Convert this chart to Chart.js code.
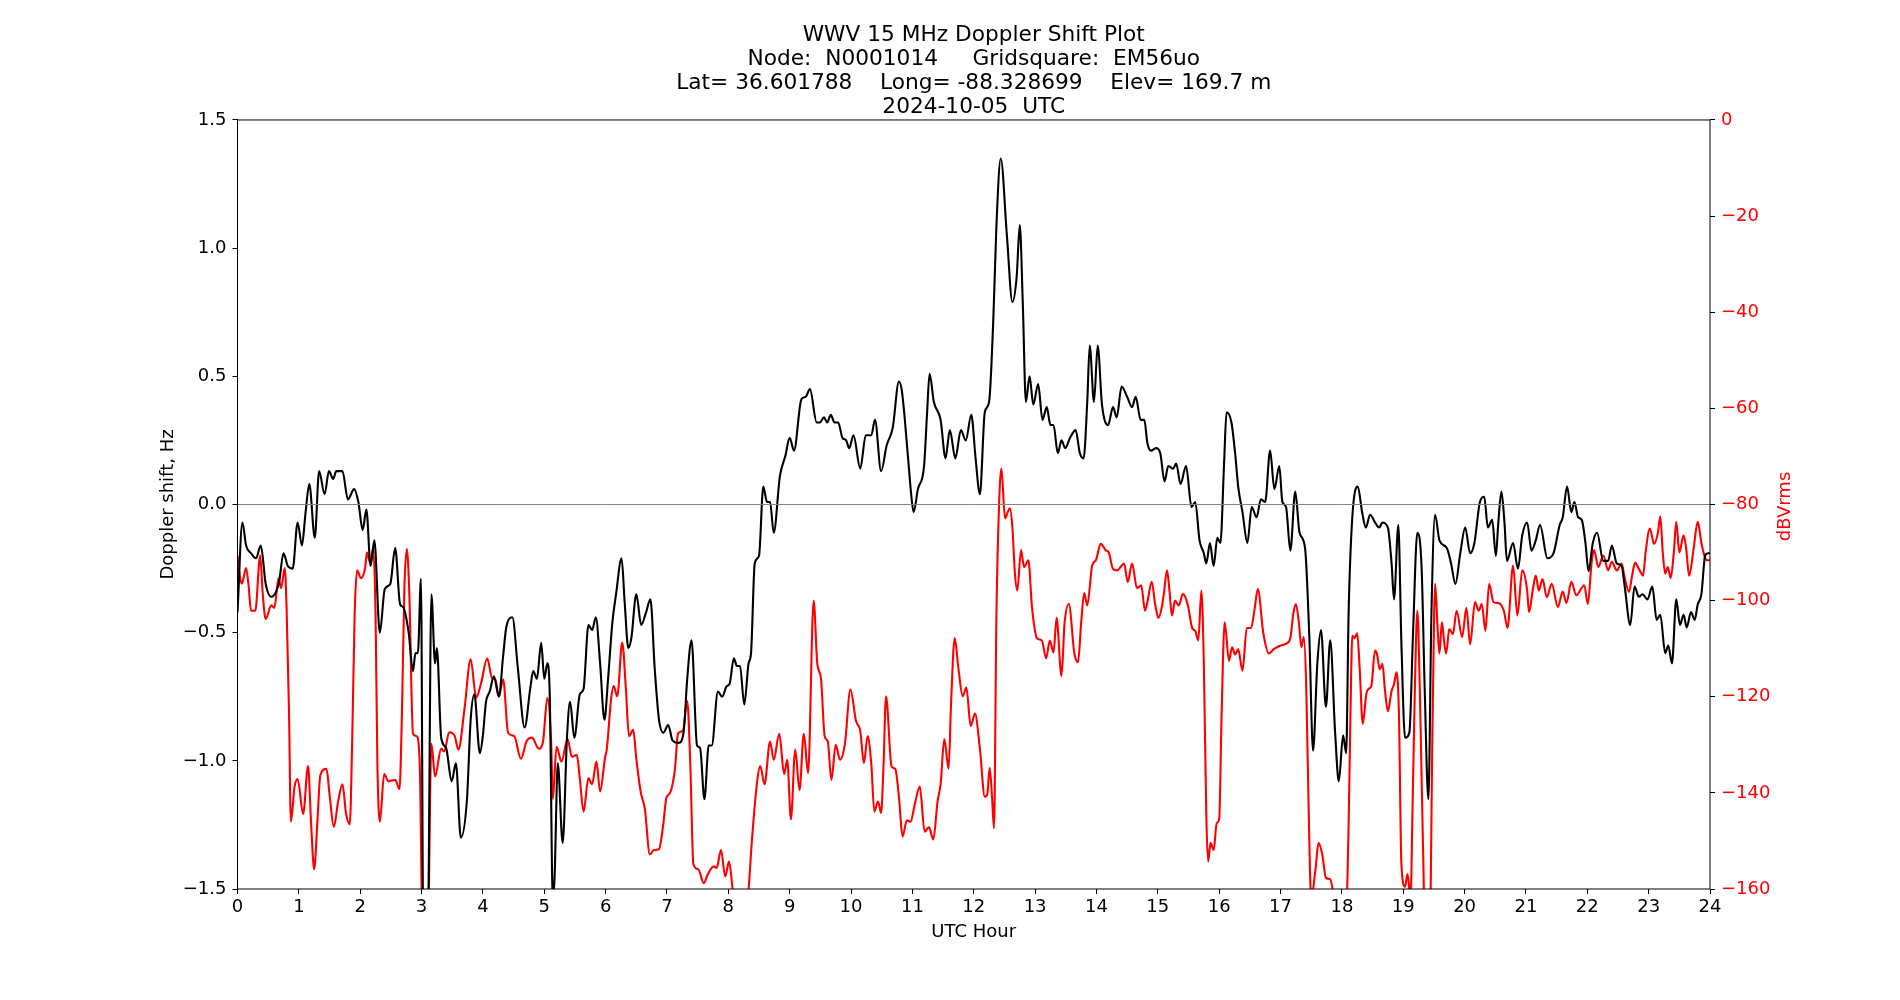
<!DOCTYPE html>
<html>
<head>
<meta charset="utf-8">
<title>WWV 15 MHz Doppler Shift Plot</title>
<script src="https://cdn.jsdelivr.net/npm/chart.js@4.4.1/dist/chart.umd.min.js"></script>
<style>
  html, body { margin: 0; padding: 0; background: #ffffff; }
  #wrap { width: 1900px; height: 1000px; }
</style>
</head>
<body>
<div id="wrap"><canvas id="doppler" width="1900" height="1000"></canvas></div>
<script>
// Title lines
const titleLines = [
    'WWV 15 MHz Doppler Shift Plot',
    'Node:  N0001014     Gridsquare:  EM56uo',
    'Lat= 36.601788    Long= -88.328699    Elev= 169.7 m',
    '2024-10-05  UTC'
];

// Doppler shift (black, left axis) - hours / Hz
const dopplerHours = [
    0.00, 0.08, 0.14, 0.22, 0.30, 0.38, 0.46, 0.55, 0.63, 0.68, 0.75, 0.82, 0.90, 0.98, 1.05, 1.11, 1.17, 1.26, 1.33, 1.42,
    1.49, 1.56, 1.61, 1.71, 1.80, 1.90, 1.97, 2.04, 2.10, 2.17, 2.23, 2.32, 2.40, 2.49, 2.57, 2.65, 2.70, 2.79, 2.86, 2.90,
    2.94, 2.99, 3.03, 3.10, 3.16, 3.22, 3.25, 3.32, 3.40, 3.49, 3.56, 3.64, 3.74, 3.80, 3.86, 3.95, 4.00, 4.05, 4.11, 4.18,
    4.26, 4.33, 4.38, 4.48, 4.57, 4.68, 4.77, 4.82, 4.88, 4.95, 5.00, 5.05, 5.09, 5.14, 5.17, 5.22, 5.30, 5.37, 5.42, 5.49,
    5.58, 5.64, 5.72, 5.78, 5.84, 5.91, 5.98, 6.04, 6.11, 6.17, 6.26, 6.31, 6.37, 6.42, 6.50, 6.58, 6.66, 6.73, 6.80, 6.87,
    6.94, 7.02, 7.09, 7.19, 7.27, 7.33, 7.40, 7.49, 7.54, 7.61, 7.68, 7.73, 7.83, 7.90, 7.97, 8.02, 8.09, 8.14, 8.19, 8.26,
    8.33, 8.37, 8.43, 8.50, 8.57, 8.63, 8.68, 8.74, 8.84, 8.93, 9.00, 9.07, 9.19, 9.26, 9.33, 9.44, 9.49, 9.56, 9.61, 9.67,
    9.73, 9.79, 9.86, 9.92, 9.97, 10.04, 10.15, 10.24, 10.33, 10.39, 10.49, 10.58, 10.68, 10.78, 10.83, 10.93, 10.98, 11.02, 11.09, 11.19,
    11.24, 11.28, 11.35, 11.46, 11.54, 11.61, 11.70, 11.79, 11.87, 11.96, 12.03, 12.10, 12.18, 12.25, 12.32, 12.37, 12.44, 12.54, 12.63, 12.70,
    12.75, 12.80, 12.85, 12.91, 12.97, 13.05, 13.12, 13.19, 13.25, 13.30, 13.37, 13.43, 13.49, 13.57, 13.66, 13.73, 13.79, 13.85, 13.89, 13.96,
    14.02, 14.09, 14.19, 14.27, 14.33, 14.41, 14.50, 14.58, 14.64, 14.72, 14.78, 14.83, 14.89, 14.97, 15.04, 15.11, 15.17, 15.25, 15.30, 15.37,
    15.46, 15.55, 15.61, 15.68, 15.75, 15.79, 15.85, 15.91, 15.97, 16.02, 16.08, 16.12, 16.20, 16.26, 16.31, 16.38, 16.46, 16.53, 16.61, 16.68,
    16.75, 16.83, 16.90, 16.98, 17.03, 17.09, 17.16, 17.24, 17.31, 17.40, 17.47, 17.53, 17.60, 17.66, 17.74, 17.81, 17.89, 17.95, 18.02, 18.07,
    18.11, 18.17, 18.26, 18.33, 18.39, 18.46, 18.54, 18.61, 18.66, 18.75, 18.81, 18.85, 18.92, 18.97, 19.03, 19.10, 19.16, 19.23, 19.30, 19.35,
    19.41, 19.46, 19.52, 19.59, 19.71, 19.78, 19.85, 19.93, 20.01, 20.09, 20.16, 20.25, 20.32, 20.38, 20.45, 20.51, 20.55, 20.60, 20.65, 20.69,
    20.79, 20.87, 20.94, 21.02, 21.09, 21.16, 21.23, 21.35, 21.45, 21.55, 21.60, 21.67, 21.74, 21.79, 21.85, 21.91, 21.97, 22.02, 22.09, 22.16,
    22.26, 22.34, 22.40, 22.48, 22.56, 22.61, 22.70, 22.77, 22.84, 22.90, 22.98, 23.06, 23.13, 23.19, 23.27, 23.32, 23.38, 23.45, 23.51, 23.57,
    23.62, 23.69, 23.75, 23.80, 23.86, 23.92, 23.97, 24.00
];
const dopplerHz = [
    -0.42, -0.07, -0.16, -0.19, -0.21, -0.16, -0.31, -0.36, -0.34, -0.30, -0.19, -0.24, -0.25, -0.07, -0.16, -0.03, 0.08, -0.13, 0.13, 0.04,
    0.13, 0.10, 0.13, 0.13, 0.02, 0.06, 0.01, -0.10, -0.02, -0.24, -0.14, -0.50, -0.33, -0.31, -0.17, -0.39, -0.40, -0.50, -0.65, -0.58,
    -0.58, -0.29, -1.70, -1.70, -0.35, -0.62, -0.56, -0.91, -0.95, -1.08, -1.01, -1.30, -1.15, -0.84, -0.74, -0.97, -0.90, -0.77, -0.73, -0.67,
    -0.75, -0.59, -0.48, -0.44, -0.64, -0.87, -0.72, -0.65, -0.68, -0.54, -0.68, -0.62, -0.75, -1.55, -1.44, -1.01, -1.32, -0.91, -0.77, -0.91,
    -0.74, -0.72, -0.47, -0.49, -0.44, -0.62, -0.84, -0.68, -0.46, -0.35, -0.21, -0.38, -0.56, -0.52, -0.35, -0.47, -0.42, -0.37, -0.64, -0.84,
    -0.89, -0.86, -0.92, -0.93, -0.89, -0.68, -0.53, -0.94, -0.95, -1.15, -0.94, -0.94, -0.73, -0.75, -0.71, -0.70, -0.60, -0.63, -0.63, -0.78,
    -0.62, -0.58, -0.23, -0.20, 0.07, 0.01, 0.01, -0.11, 0.11, 0.19, 0.26, 0.21, 0.41, 0.42, 0.45, 0.32, 0.32, 0.34, 0.32, 0.35,
    0.32, 0.32, 0.26, 0.25, 0.22, 0.27, 0.14, 0.27, 0.27, 0.33, 0.13, 0.23, 0.30, 0.48, 0.44, 0.18, 0.04, -0.03, 0.06, 0.15,
    0.36, 0.51, 0.40, 0.33, 0.18, 0.29, 0.18, 0.29, 0.25, 0.35, 0.18, 0.04, 0.36, 0.40, 0.73, 1.09, 1.35, 1.05, 0.79, 0.89,
    1.09, 0.78, 0.40, 0.50, 0.39, 0.47, 0.33, 0.38, 0.31, 0.31, 0.20, 0.25, 0.22, 0.26, 0.29, 0.20, 0.18, 0.40, 0.62, 0.40,
    0.62, 0.39, 0.31, 0.38, 0.34, 0.46, 0.42, 0.38, 0.42, 0.33, 0.33, 0.24, 0.21, 0.22, 0.20, 0.09, 0.15, 0.14, 0.16, 0.08,
    0.15, -0.01, 0.01, -0.14, -0.19, -0.23, -0.15, -0.24, -0.13, -0.15, 0.16, 0.36, 0.32, 0.20, 0.07, -0.03, -0.15, -0.01, -0.05, 0.02,
    0.01, 0.21, 0.06, 0.15, 0.01, -0.01, -0.18, 0.05, -0.11, -0.17, -0.52, -0.96, -0.62, -0.49, -0.79, -0.53, -0.89, -1.08, -0.90, -0.97,
    -0.42, -0.05, 0.07, -0.03, -0.09, -0.04, -0.07, -0.09, -0.07, -0.09, -0.23, -0.37, -0.08, -0.54, -0.91, -0.89, -0.50, -0.11, -0.25, -0.72,
    -1.15, -0.42, -0.04, -0.14, -0.17, -0.23, -0.31, -0.19, -0.09, -0.19, -0.15, 0.01, 0.03, -0.09, -0.06, -0.20, -0.07, 0.05, -0.07, -0.22,
    -0.15, -0.25, -0.12, -0.07, -0.18, -0.14, -0.08, -0.21, -0.19, -0.08, -0.05, 0.07, -0.03, 0.01, -0.05, -0.06, -0.15, -0.26, -0.15, -0.11,
    -0.22, -0.22, -0.16, -0.23, -0.24, -0.32, -0.47, -0.32, -0.36, -0.35, -0.37, -0.32, -0.45, -0.43, -0.58, -0.55, -0.62, -0.37, -0.47, -0.43,
    -0.48, -0.42, -0.45, -0.39, -0.35, -0.20, -0.19, -0.19
];

// Received level (red, right axis) - hours / dBVrms
const powerHours = [
    0.00, 0.03, 0.07, 0.14, 0.18, 0.22, 0.29, 0.37, 0.41, 0.46, 0.55, 0.60, 0.67, 0.71, 0.77, 0.80, 0.84, 0.87, 0.93, 0.98,
    1.07, 1.15, 1.20, 1.25, 1.30, 1.35, 1.45, 1.50, 1.57, 1.64, 1.71, 1.77, 1.83, 1.87, 1.91, 1.95, 2.01, 2.08, 2.11, 2.16,
    2.21, 2.25, 2.28, 2.32, 2.39, 2.46, 2.57, 2.64, 2.68, 2.72, 2.76, 2.80, 2.86, 2.92, 2.97, 3.02, 3.10, 3.16, 3.22, 3.32,
    3.37, 3.45, 3.54, 3.60, 3.70, 3.80, 3.89, 3.97, 4.07, 4.15, 4.20, 4.26, 4.33, 4.41, 4.51, 4.62, 4.71, 4.80, 4.91, 4.98,
    5.05, 5.11, 5.14, 5.20, 5.28, 5.38, 5.45, 5.53, 5.58, 5.64, 5.72, 5.78, 5.85, 5.91, 5.99, 6.02, 6.09, 6.13, 6.19, 6.27,
    6.33, 6.38, 6.45, 6.50, 6.57, 6.64, 6.72, 6.79, 6.87, 6.94, 6.99, 7.05, 7.13, 7.18, 7.26, 7.33, 7.38, 7.43, 7.51, 7.60,
    7.66, 7.76, 7.81, 7.88, 7.95, 8.01, 8.08, 8.20, 8.33, 8.38, 8.47, 8.52, 8.59, 8.68, 8.74, 8.83, 8.91, 8.96, 9.02, 9.09,
    9.16, 9.23, 9.30, 9.39, 9.45, 9.51, 9.57, 9.62, 9.68, 9.75, 9.82, 9.90, 9.99, 10.08, 10.15, 10.21, 10.27, 10.33, 10.38, 10.44,
    10.49, 10.53, 10.57, 10.66, 10.72, 10.78, 10.84, 10.91, 10.97, 11.04, 11.12, 11.20, 11.27, 11.34, 11.41, 11.46, 11.52, 11.59, 11.63, 11.69,
    11.75, 11.82, 11.88, 11.95, 12.02, 12.10, 12.18, 12.22, 12.26, 12.30, 12.33, 12.37, 12.42, 12.45, 12.51, 12.55, 12.59, 12.63, 12.67, 12.71,
    12.77, 12.82, 12.89, 12.95, 13.03, 13.11, 13.18, 13.24, 13.30, 13.35, 13.43, 13.48, 13.55, 13.64, 13.70, 13.75, 13.80, 13.85, 13.93, 13.99,
    14.07, 14.15, 14.20, 14.27, 14.34, 14.38, 14.45, 14.51, 14.58, 14.66, 14.73, 14.79, 14.83, 14.90, 14.96, 15.01, 15.07, 15.10, 15.15, 15.19,
    15.23, 15.28, 15.34, 15.41, 15.49, 15.56, 15.61, 15.66, 15.71, 15.75, 15.79, 15.82, 15.86, 15.91, 15.96, 16.00, 16.04, 16.09, 16.16, 16.21,
    16.26, 16.31, 16.38, 16.45, 16.52, 16.58, 16.63, 16.72, 16.81, 16.89, 16.99, 17.10, 17.16, 17.21, 17.25, 17.30, 17.34, 17.38, 17.42, 17.46,
    17.50, 17.57, 17.62, 17.68, 17.74, 17.81, 17.87, 17.95, 18.05, 18.11, 18.14, 18.17, 18.21, 18.25, 18.29, 18.34, 18.40, 18.44, 18.48, 18.54,
    18.57, 18.62, 18.66, 18.70, 18.75, 18.81, 18.85, 18.89, 18.93, 18.97, 19.03, 19.07, 19.12, 19.15, 19.19, 19.23, 19.27, 19.32, 19.36, 19.43,
    19.48, 19.52, 19.56, 19.59, 19.63, 19.67, 19.70, 19.75, 19.81, 19.87, 19.96, 20.03, 20.09, 20.17, 20.23, 20.28, 20.34, 20.40, 20.47, 20.55,
    20.64, 20.70, 20.79, 20.86, 20.94, 21.02, 21.05, 21.11, 21.16, 21.21, 21.27, 21.34, 21.42, 21.52, 21.60, 21.66, 21.74, 21.82, 21.95, 22.01,
    22.07, 22.11, 22.18, 22.26, 22.34, 22.40, 22.48, 22.56, 22.61, 22.68, 22.73, 22.78, 22.84, 22.91, 22.95, 23.02, 23.09, 23.15, 23.19, 23.23,
    23.27, 23.31, 23.36, 23.41, 23.45, 23.50, 23.57, 23.61, 23.66, 23.73, 23.80, 23.86, 23.92, 23.96, 24.00
];
const powerDb = [
    -90.6, -94.2, -96.5, -93.2, -96.8, -102.1, -102.1, -90.6, -98.4, -103.8, -101.0, -101.5, -95.3, -97.4, -93.2, -101.5, -123.5, -146.0, -138.7, -137.1,
    -144.4, -134.4, -146.5, -155.9, -146.5, -136.3, -135.0, -140.3, -147.1, -141.8, -138.2, -144.4, -146.5, -128.7, -102.6, -93.7, -95.3, -93.2, -90.0, -92.1,
    -89.2, -102.6, -134.0, -146.0, -136.1, -137.6, -137.3, -139.2, -123.5, -97.4, -89.2, -98.4, -127.7, -128.2, -134.0, -170.0, -170.0, -129.8, -136.6, -130.8,
    -131.4, -127.4, -128.2, -131.0, -122.5, -112.2, -120.2, -117.2, -112.0, -116.2, -116.4, -119.9, -116.4, -127.5, -128.2, -132.9, -129.3, -128.5, -130.8, -129.3,
    -120.2, -128.8, -141.3, -130.4, -133.5, -128.8, -132.5, -132.1, -137.1, -143.9, -136.9, -138.2, -133.5, -139.7, -132.7, -130.8, -120.4, -117.8, -119.9, -108.7,
    -118.3, -128.2, -126.9, -132.9, -139.7, -143.4, -152.8, -151.9, -151.7, -146.5, -141.0, -140.0, -135.0, -127.6, -127.1, -120.9, -134.0, -154.8, -155.9, -158.8,
    -157.1, -155.3, -155.6, -151.9, -157.4, -154.3, -161.0, -168.0, -160.0, -150.6, -137.6, -134.4, -138.2, -129.3, -133.1, -127.7, -136.1, -133.1, -145.5, -131.0,
    -139.4, -127.7, -135.9, -100.0, -113.1, -116.2, -128.2, -129.3, -137.3, -130.0, -133.1, -129.8, -118.5, -125.0, -127.1, -133.8, -128.2, -134.0, -143.9, -141.8,
    -144.2, -134.0, -119.9, -134.5, -135.0, -140.8, -149.1, -145.7, -146.0, -142.3, -138.7, -148.1, -147.1, -149.7, -141.8, -138.2, -128.8, -135.0, -121.4, -107.8,
    -114.1, -119.9, -118.1, -126.1, -123.5, -130.8, -140.8, -140.3, -134.8, -141.3, -147.4, -102.6, -77.5, -72.5, -82.9, -81.7, -80.8, -84.8, -94.2, -97.9,
    -89.5, -93.0, -91.6, -101.5, -107.8, -108.3, -112.0, -108.3, -110.8, -103.6, -115.7, -104.7, -100.7, -111.0, -112.8, -104.7, -98.4, -101.0, -92.7, -91.6,
    -88.2, -89.5, -90.0, -93.4, -93.7, -93.2, -92.3, -96.1, -92.3, -97.4, -96.8, -102.1, -100.3, -96.1, -101.0, -103.6, -101.0, -98.4, -93.7, -97.9,
    -103.1, -100.0, -101.0, -98.6, -101.0, -105.7, -106.3, -108.3, -97.9, -113.1, -144.4, -154.3, -150.4, -151.9, -146.3, -145.5, -123.5, -104.5, -112.5, -109.7,
    -111.2, -110.1, -114.6, -105.7, -105.7, -101.5, -97.6, -106.8, -111.0, -110.1, -109.4, -108.9, -107.8, -102.6, -100.7, -104.7, -109.7, -107.6, -118.3, -144.4,
    -162.0, -155.9, -150.4, -152.8, -157.7, -158.0, -162.0, -172.0, -172.0, -146.5, -123.5, -107.3, -107.8, -106.8, -114.1, -125.6, -119.3, -118.3, -117.8, -110.4,
    -111.0, -114.3, -113.1, -118.3, -123.0, -118.8, -117.4, -114.9, -123.5, -154.8, -159.5, -156.9, -162.0, -144.4, -118.3, -102.1, -118.3, -149.7, -170.0, -170.0,
    -123.5, -96.5, -105.7, -111.0, -104.5, -108.9, -111.0, -105.9, -107.0, -102.1, -107.6, -101.5, -109.1, -100.3, -102.1, -100.7, -106.3, -96.5, -100.3, -100.5,
    -102.1, -105.7, -92.7, -103.1, -93.7, -97.9, -102.4, -97.9, -94.8, -97.9, -95.5, -99.3, -96.5, -101.3, -98.1, -100.5, -96.1, -98.9, -96.8, -100.7,
    -92.1, -89.5, -93.0, -90.6, -93.7, -91.9, -93.7, -92.3, -95.3, -98.2, -94.8, -92.1, -93.4, -94.8, -90.0, -85.0, -88.2, -85.9, -82.5, -90.0,
    -94.4, -93.0, -95.3, -90.0, -83.6, -90.0, -86.4, -89.0, -94.8, -89.5, -83.6, -88.0, -91.1, -91.6, -91.6
];

// Horizontal reference at 0 Hz
const zeroHours = [0, 24];
const zeroHz = [0, 0];

const FONT = 'DejaVu Sans';
const TICK_SIZE = 18;
const TITLE_SIZE = 21.7;

function toPoints(xs, ys) {
    return xs.map((x, i) => ({ x: x, y: ys[i] }));
}

// matplotlib style minus sign
function mplMinus(v, digits) {
    return v.toFixed(digits).replace('-', '\u2212');
}

// Box around the plot area + rotated right axis label (reads bottom to top)
const framePlugin = {
    id: 'frame',
    afterDatasetsDraw(chart) {
        const { ctx, chartArea } = chart;
        ctx.save();
        ctx.strokeStyle = '#000000';
        ctx.lineWidth = 1;
        ctx.strokeRect(chartArea.left, chartArea.top, chartArea.right - chartArea.left, chartArea.bottom - chartArea.top);
        ctx.restore();
    },
    afterDraw(chart) {
        const { ctx, chartArea } = chart;
        ctx.save();
        ctx.translate(chartArea.right + 75, (chartArea.top + chartArea.bottom) / 2 + 2);
        ctx.rotate(-Math.PI / 2);
        ctx.fillStyle = '#ff0000';
        ctx.font = TICK_SIZE + 'px "' + FONT + '"';
        ctx.textAlign = 'center';
        ctx.textBaseline = 'middle';
        ctx.fillText('dBVrms', 0, 0);
        ctx.restore();
    }
};

const tickMarks = {
    display: true,
    drawOnChartArea: false,
    drawTicks: true,
    tickLength: 5,
    color: '#000000',
    lineWidth: 1
};

const ctx = document.getElementById('doppler').getContext('2d');
const chart = new Chart(ctx, {
    type: 'line',
    data: {
        datasets: [
            {
                label: 'zero',
                data: toPoints(zeroHours, zeroHz),
                yAxisID: 'y',
                borderColor: '#808080',
                borderWidth: 1,
                pointRadius: 0,
                tension: 0,
                fill: false
            },
            {
                label: 'Doppler shift',
                data: toPoints(dopplerHours, dopplerHz),
                yAxisID: 'y',
                borderColor: '#000000',
                borderWidth: 2.1,
                pointRadius: 0,
                cubicInterpolationMode: 'monotone',
                fill: false
            },
            {
                label: 'dBVrms',
                data: toPoints(powerHours, powerDb),
                yAxisID: 'y2',
                borderColor: '#ff0000',
                borderWidth: 2.1,
                pointRadius: 0,
                cubicInterpolationMode: 'monotone',
                fill: false
            }
        ]
    },
    options: {
        responsive: false,
        animation: false,
        devicePixelRatio: 1,
        layout: { padding: 0 },
        plugins: {
            legend: { display: false },
            tooltip: { enabled: false },
            title: {
                display: true,
                fullSize: false,   // centre over the plot area, like matplotlib
                text: titleLines,
                color: '#000000',
                font: { family: FONT, size: TITLE_SIZE, weight: 'normal', lineHeight: 1.1 },
                padding: { top: 23.5, bottom: 1 }
            }
        },
        scales: {
            x: {
                type: 'linear',
                position: 'bottom',
                min: 0,
                max: 24,
                afterFit: (scale) => { scale.height = 111; },
                grid: tickMarks,
                border: { display: false },
                ticks: {
                    stepSize: 1,
                    autoSkip: false,
                    maxRotation: 0,
                    padding: 3,
                    color: '#000000',
                    font: { family: FONT, size: TICK_SIZE },
                    callback: (v) => String(v)
                },
                title: {
                    display: true,
                    text: 'UTC Hour',
                    color: '#000000',
                    font: { family: FONT, size: TICK_SIZE },
                    padding: { top: 0, bottom: 56.5 }
                }
            },
            y: {
                type: 'linear',
                position: 'left',
                min: -1.5,
                max: 1.5,
                afterFit: (scale) => { scale.width = 237.5; },
                grid: tickMarks,
                border: { display: false },
                ticks: {
                    stepSize: 0.5,
                    padding: 6,
                    color: '#000000',
                    font: { family: FONT, size: TICK_SIZE },
                    callback: (v) => mplMinus(v, 1)
                },
                title: {
                    display: true,
                    text: 'Doppler shift, Hz',
                    color: '#000000',
                    font: { family: FONT, size: TICK_SIZE },
                    padding: { top: 158, bottom: 0 }
                }
            },
            y2: {
                type: 'linear',
                position: 'right',
                min: -160,
                max: 0,
                afterFit: (scale) => { scale.width = 190; },
                grid: tickMarks,
                border: { display: false },
                ticks: {
                    stepSize: 20,
                    padding: 6,
                    color: '#ff0000',
                    font: { family: FONT, size: TICK_SIZE },
                    callback: (v) => mplMinus(v, 0)
                }
            }
        }
    },
    plugins: [framePlugin]
});
</script>
</body>
</html>
